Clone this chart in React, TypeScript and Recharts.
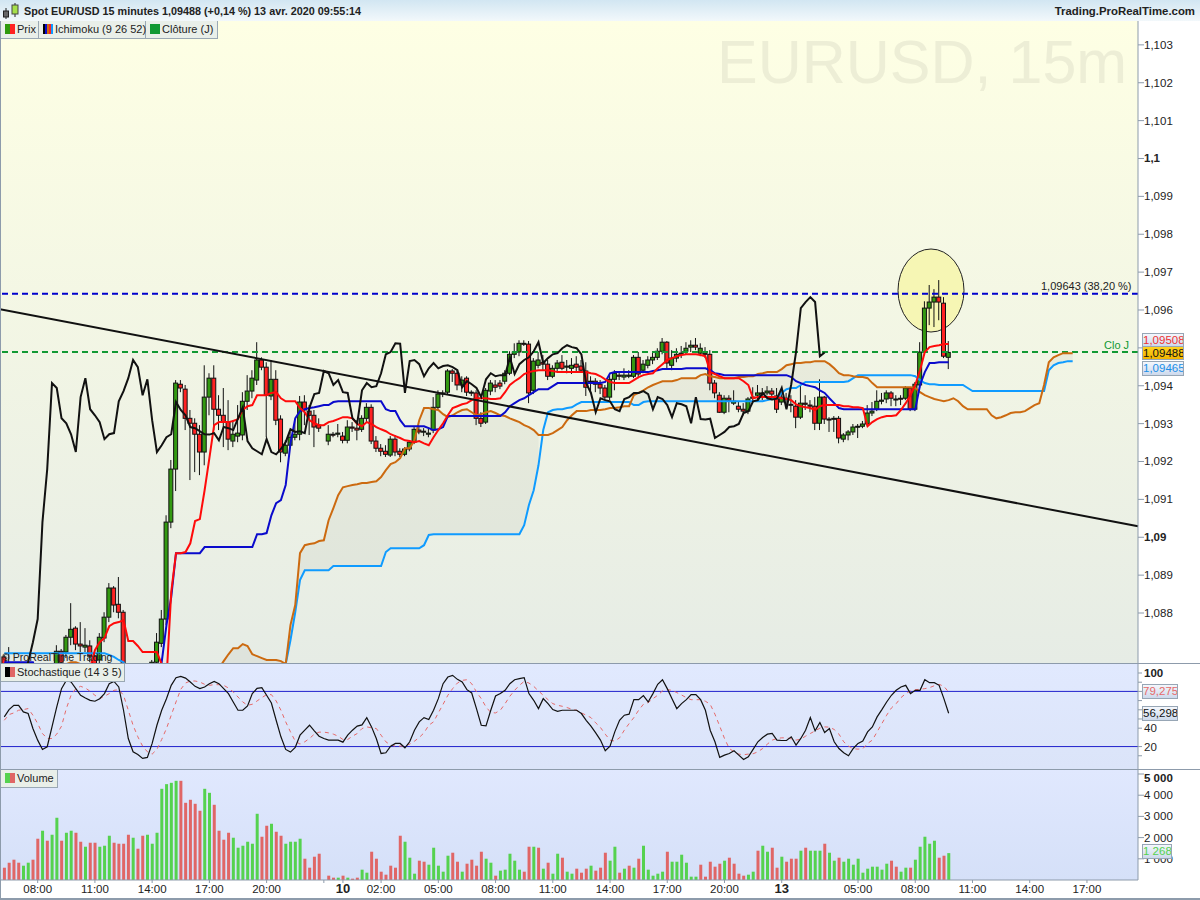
import React from 'react';
import {
  Area,
  Bar,
  Cell,
  ComposedChart,
  Line,
  ReferenceLine,
  XAxis,
  YAxis
} from 'recharts';

// prices are stored as points above 1 (9488 means 1,09488)
const opens = [
  8684,8665,8654,8644,8633,8644,8654,8644,8623,8644,
  8633,8649,8699,8697,8736,8760,8718,8710,8713,8686,
  8676,8734,8789,8866,8823,8802,8654,8639,8649,8633,
  8623,8644,8670,8720,8784,9040,9180,9404,9391,9314,
  9301,9272,9225,9370,9420,9338,9322,9304,9254,9267,
  9270,9359,9386,9415,9468,9449,9373,9417,9312,9222,
  9243,9264,9272,9357,9333,9322,9296,null,9254,9272,
  9272,9267,9256,9291,9288,9285,9314,9343,9254,9235,
  9227,9217,9259,9227,9219,9233,9251,9283,9278,9272,
  9283,9343,9378,9383,9439,9433,9402,9420,9383,9381,
  9314,9304,9386,9402,9407,9412,9433,9483,9489,9512,
  9510,9388,9454,9462,9457,9425,9446,9462,9449,9446,
  9457,9452,9439,9410,9412,9404,9394,9370,9417,9428,
  9423,9425,9425,9475,9441,9454,9468,9475,9491,9515,
  9454,9473,9483,9491,9502,9507,9486,9486,9483,9407,
  9375,9330,9367,9354,9346,9338,9333,9367,9375,9378,
  9381,9386,9373,9357,9367,9351,9346,9317,9354,9349,
  9346,9301,9370,9312,9314,9314,9259,9270,9278,9291,
  9293,9299,9328,9338,9359,9365,9381,9365,9367,9367,
  9394,9338,9402,9489,9605,9621,9634,9618,9475
];
const closes = [
  8665,8654,8644,8633,8644,8654,8644,8623,8644,8633,
  8649,8699,8670,8736,8757,8718,8713,8715,8686,8654,
  8736,8789,8866,8821,8802,8654,8639,8649,8633,8623,
  8644,8670,8723,8784,9040,9180,9407,9394,9314,9301,
  9272,9225,9370,9420,9338,9322,9304,9259,9272,9275,
  9359,9386,9420,9468,9449,9375,9417,9309,9225,9243,
  9264,9272,9357,9336,9322,9291,9288,null,9272,9271,
  9275,9256,9291,9288,9283,9314,9343,9254,9235,9227,
  9219,9259,9225,9219,9233,9251,9285,9278,9280,9275,
  9343,9378,9381,9439,9433,9402,9415,9383,9381,9314,
  9301,9388,9407,9396,9399,9433,9483,9489,9512,9511,
  9381,9465,9468,9457,9425,9446,9460,9446,9452,9454,
  9449,9441,9396,9412,9404,9394,9370,9417,9433,9425,
  9428,9428,9475,9431,9457,9468,9475,9491,9515,9460,
  9473,9483,9486,9499,9507,9502,9499,9483,9407,9381,
  9330,9367,9362,9359,9338,9333,9365,9370,9381,9381,
  9386,9378,9338,9370,9365,9349,9317,9354,9351,9346,
  9301,9370,9312,9311,9313,9262,9270,9278,9291,9293,
  9299,9328,9333,9359,9362,9381,9367,9364,9366,9394,
  9338,9404,9489,9605,9621,9634,9621,9478,9488
];
const highs = [
  8689,8710,8670,8654,8654,8665,8665,8654,8649,8654,
  8660,8715,8705,8742,8826,8765,8776,8760,8728,8702,
  8747,8802,8879,8871,8895,8808,8665,8660,8660,8644,
  8654,8676,8747,8808,9058,9204,9415,9415,9402,9336,
  9314,9296,9454,9433,9454,9375,9394,9362,9309,9349,
  9383,9428,9441,9515,9475,9462,9468,9441,9322,9256,
  9278,9309,9373,9375,9349,9336,9314,null,9296,9278,
  9299,9278,9309,9304,9309,9322,9354,9351,9267,9246,
  9243,9267,9270,9235,9238,9256,9291,9291,9288,9288,
  9370,9388,9388,9444,9444,9441,9425,9425,9388,9388,
  9330,9394,9415,9415,9415,9441,9491,9512,9520,9520,
  9518,9473,9489,9481,9468,9454,9468,9481,9468,9473,
  9478,9468,9462,9425,9420,9415,9402,9428,9441,9436,
  9446,9441,9481,9489,9468,9478,9489,9499,9526,9518,
  9494,9499,9505,9515,9520,9526,9512,9502,9494,9415,
  9383,9375,9375,9388,9357,9354,9370,9396,9402,9394,
  9399,9394,9394,9383,9381,9375,9362,9402,9375,9362,
  9370,9417,9373,9317,9320,9320,9275,9283,9299,9299,
  9307,9349,9357,9388,9381,9388,9386,9375,9375,9399,
  9396,9410,9515,9623,9666,9655,9679,9634,9518
];
const lows = [
  8654,8644,8633,8623,8623,8633,8633,8612,8612,8623,
  8618,8639,8654,8681,8715,8702,8697,8697,8670,8644,
  8665,8723,8776,8802,8786,8644,8628,8628,8623,8612,
  8612,8633,8660,8710,8768,9024,9122,9383,9283,9151,
  9172,9164,9190,9322,9283,9283,9238,9230,9238,9251,
  9256,9336,9367,9402,9441,9264,9362,9296,9198,9214,
  9235,9256,9256,9296,9270,9238,9278,null,9243,9264,
  9264,9248,9248,9278,9256,9278,9304,9246,9225,9214,
  9212,9212,9214,9212,9214,9227,9246,9272,9267,9264,
  9275,9336,9370,9378,9410,9388,9383,9373,9373,9296,
  9291,9299,9375,9383,9391,9404,9428,9473,9478,9505,
  9354,9378,9446,9441,9415,9420,9436,9441,9433,9431,
  9436,9436,9373,9383,9383,9378,9362,9362,9388,9415,
  9415,9420,9420,9420,9433,9446,9457,9468,9483,9446,
  9441,9462,9473,9483,9489,9494,9478,9473,9388,9367,
  9328,9325,9330,9349,9330,9322,9325,9357,9362,9362,
  9375,9362,9328,9349,9341,9330,9288,9312,9336,9330,
  9283,9283,9299,9278,9278,9248,9251,9256,9270,9262,
  9288,9293,9320,9333,9351,9354,9346,9346,9349,9362,
  9333,9333,9394,9483,9560,9555,9573,9473,9444
];

const tenkan = [
  null,null,null,null,null,null,null,null,null,null,
  null,null,null,null,null,null,null,null,8654,8702,
  8723,8734,8765,8773,8776,8781,8726,8726,8713,8697,
  8697,8697,8697,8665,8623,8855,8958,8958,8961,8984,
  9043,9048,9124,9209,9296,9304,9304,9304,9307,9312,
  9336,9346,9349,9375,9375,9375,9381,9383,9367,9359,
  9359,9359,9341,9330,9309,9301,9296,9296,9304,9307,
  9312,9317,9317,9314,9299,9293,9304,9299,9291,9285,
  9280,9272,9267,9262,9256,9254,9251,9254,9248,9243,
  9264,9283,9301,9322,9341,9346,9351,9354,9362,9367,
  9367,9367,9365,9365,9367,9383,9402,9412,9420,9431,
  9436,9439,9441,9441,9441,9439,9436,9436,9436,9436,
  9436,9436,9436,9433,9431,9425,9417,9410,9407,9407,
  9407,9407,9415,9423,9428,9431,9433,9446,9457,9468,
  9473,9478,9481,9483,9483,9483,9481,9478,9436,9431,
  9425,9420,9420,9420,9420,9412,9402,9367,9370,9370,
  9370,9370,9370,9367,9365,9362,9351,9346,9343,9341,
  9336,9346,9349,9349,9349,9349,9346,9346,9343,9343,
  9341,9293,9304,9312,9317,9320,9320,9322,9336,9354,
  9375,9402,9441,9489,9502,9505,9507,9510,9510
];
const kijun = [
  8670,8670,8670,8670,8670,8670,8670,8636,8636,8636,
  8636,8636,8636,8636,8636,8636,8636,8636,8636,8636,
  8636,8636,8636,8636,8636,8636,8636,8636,8636,8636,
  8636,8636,8636,8670,8768,8842,8958,8958,8958,8958,
  8958,8958,8974,8974,8974,8974,8974,8974,8974,8974,
  8974,8974,8974,9008,9008,9011,9058,9090,9098,9138,
  9248,9314,9333,9338,9341,9343,9346,9349,9349,9357,
  9359,9359,9359,9359,9359,9359,9359,9359,9359,9359,
  9338,9333,9333,9309,9293,9293,9293,9293,9293,9288,
  9283,9285,9291,9320,9320,9320,9320,9320,9320,9320,
  9320,9320,9320,9320,9320,9330,9346,9354,9362,9367,
  9375,9383,9391,9391,9391,9399,9407,9407,9407,9407,
  9407,9407,9407,9407,9407,9407,9410,9433,9436,9436,
  9436,9436,9436,9436,9436,9436,9439,9441,9444,9444,
  9444,9444,9444,9446,9446,9446,9446,9446,9441,9433,
  9431,9428,9428,9428,9428,9428,9428,9428,9428,9428,
  9428,9428,9428,9428,9428,9423,9412,9407,9402,9399,
  9396,9388,9381,9367,9354,9341,9338,9338,9338,9338,
  9338,9338,9338,9338,9338,9338,9338,9338,9338,9338,
  9338,9338,9402,9436,9460,9460,9462,9462,9462
];
const spanA = [
  8644,8644,8644,8644,8644,8644,8644,8644,8644,8644,
  8644,8644,8644,8665,8670,8670,8665,8654,8644,8644,
  8644,8644,8644,8644,8644,8644,8644,8644,8644,8644,
  8644,8665,8665,8644,8644,8644,8644,8644,8644,8644,
  8644,8644,8644,8644,8644,8654,8673,8691,8707,8707,
  8718,8713,8691,8686,8681,8676,8676,8676,8673,8665,
  8768,8821,8958,8979,8982,8984,8990,8992,9045,9077,
  9111,9132,9135,9138,9140,9143,9143,9146,9148,9159,
  9177,9193,9198,9209,9235,9235,9256,9309,9341,9341,
  9338,9336,9325,9317,9322,9330,9336,9338,9330,9322,
  9325,9330,9333,9328,9322,9320,9314,9309,9304,9296,
  9291,9283,9270,9270,9270,9275,9283,9291,9309,9322,
  9333,9333,9333,9336,9336,9336,9338,9341,9341,9343,
  9346,9346,9375,9381,9388,9396,9402,9407,9412,9412,
  9412,9415,9420,9420,9420,9420,9428,9431,9425,9423,
  9420,9420,9420,9420,9423,9423,9425,9425,9431,9433,
  9436,9436,9436,9444,9454,9457,9460,9460,9462,9462,
  9465,9465,9465,9457,9446,9433,9428,9428,9425,9423,
  9423,9420,9407,9396,9396,9396,9396,9396,9396,9396,
  9396,9394,9383,9375,9370,9365,9362,9359,9362,9367,
  9359,9346,9338,9338,9338,9338,9338,9322,9314,9317,
  9322,9328,9330,9330,9333,9341,9349,9354,9402,9462,
  9475,9481,9486,9486,9486
];
const spanB = [
  8694,8694,8694,8694,8694,8694,8694,8694,8694,8694,
  8694,8694,8694,8694,8694,8694,8694,8694,8694,8694,
  8694,8694,8689,8684,8676,8670,8644,8644,8644,8644,
  8644,8644,8644,8644,8644,8644,8644,8644,8644,8644,
  8644,8644,8644,8644,8644,8644,8644,8644,8644,8644,
  8644,8644,8644,8644,8644,8644,8644,8644,8644,8665,
  8728,8802,8887,8913,8913,8913,8913,8913,8913,8924,
  8924,8924,8924,8924,8924,8924,8924,8924,8924,8924,
  8961,8971,8971,8971,8971,8971,8971,8971,8979,9006,
  9008,9008,9008,9008,9008,9008,9008,9008,9008,9008,
  9008,9008,9008,9008,9008,9008,9008,9008,9008,9032,
  9085,9124,9190,9283,9330,9336,9338,9338,9341,9343,
  9351,9357,9357,9357,9357,9357,9357,9357,9357,9357,
  9357,9357,9349,9349,9357,9359,9359,9359,9359,9359,
  9359,9359,9359,9359,9359,9359,9359,9359,9359,9359,
  9359,9359,9359,9359,9359,9359,9359,9359,9359,9359,
  9362,9365,9367,9381,9391,9394,9394,9402,9410,9410,
  9410,9410,9410,9410,9410,9410,9410,9412,9420,9428,
  9428,9428,9428,9428,9428,9428,9428,9428,9428,9428,
  9428,9425,9415,9407,9404,9404,9402,9402,9402,9402,
  9402,9402,9394,9386,9386,9386,9386,9386,9386,9386,
  9386,9386,9386,9386,9386,9386,9386,9386,9386,9441,
  9454,9460,9462,9465,9465
];
const chikou = [
  8639,8649,8633,8623,8644,8670,8723,8784,9040,9180,
  9407,9394,9314,9301,9272,9225,9370,9420,9338,9322,
  9304,9259,9272,9275,9359,9386,9420,9468,9449,9375,
  9417,9309,9225,9243,9264,9272,9357,9336,9322,9291,
  9288,null,9272,9271,9275,9256,9291,9288,9283,9314,
  9343,9254,9235,9227,9219,9259,9225,9219,9233,9251,
  9285,9278,9280,9275,9343,9378,9381,9439,9433,9402,
  9415,9383,9381,9314,9301,9388,9407,9396,9399,9433,
  9483,9489,9512,9511,9381,9465,9468,9457,9425,9446,
  9460,9446,9452,9454,9449,9441,9396,9412,9404,9394,
  9370,9417,9433,9425,9428,9428,9475,9431,9457,9468,
  9475,9491,9515,9460,9473,9483,9486,9499,9507,9502,
  9499,9483,9407,9381,9330,9367,9362,9359,9338,9333,
  9365,9370,9381,9381,9386,9378,9338,9370,9365,9349,
  9317,9354,9351,9346,9301,9370,9312,9311,9313,9262,
  9270,9278,9291,9293,9299,9328,9333,9359,9362,9381,
  9367,9364,9366,9394,9338,9404,9489,9605,9621,9634,
  9621,9478,9488
];

const stochK = [
  52.3,60.2,64.9,64.9,57.7,55.9,39.6,27,16.9,19.8,
  41.4,63.1,83,92,90.2,83,75.8,72.9,70.3,69.3,
  72.1,77.6,88.4,90.9,84.8,59.5,28.8,14.3,11.4,7.1,
  8.2,23.4,43.2,59.5,72.1,86.6,94.9,96.4,94.5,90.2,
  85.5,83,84.8,88.4,90.9,88.4,83,77.6,68.5,59.5,
  59.5,64.2,77.6,83.3,84,75.8,67.4,48.6,30.6,16.9,
  14,19,32.4,37.8,43.2,37.1,31.3,28.8,27,27,
  27,24.8,32.4,37.8,42.2,43.6,51.5,41.4,28.8,12.5,
  13.3,20.5,23.4,23.4,18.7,25.2,37.8,46.9,51.5,49.4,
  59.5,72.1,88.4,95.6,97.4,93.1,90.2,81.9,78.3,61.3,
  43.2,42.5,59.5,75,77.6,81.2,88.4,92.7,93.8,94.9,
  77.6,70.3,61.3,72.1,66.7,60.2,58.4,59.5,59.5,59.5,
  59.5,55.9,48.6,42.2,34.9,27,15.4,20.5,36,48.6,
  54.1,55.2,71,71,75.4,68.5,77.6,87.7,92.7,83,
  72.1,61.3,66.7,71,76.5,76.5,71,59.5,37.8,25.2,
  8.2,10.7,12.5,15.4,10.7,6,8.9,16.9,25.2,29.9,
  33.5,34.2,27,26.6,26.6,30.6,21.6,28.8,37.8,51.5,
  37.1,46.1,35.3,39.6,25.2,17.9,13.3,10,17.9,23.4,
  25.9,36,41.4,52.3,60.2,68.5,75.8,81.2,84.8,86.6,
  77.6,81.2,81.2,92.7,89.5,89.5,86.6,72.1,56.3
];
const stochD = [
  48.6,54.8,56.6,59.5,60.2,61.3,54.1,45,34.2,28.8,
  28.8,33.5,42.2,61.3,75.8,83,85.5,83.7,80.1,75.8,
  72.1,74.7,77.6,81.2,81.9,75.8,59.5,43.2,30.6,20.5,
  14.3,11.8,16.9,27.7,39.6,54.1,68.5,82.3,89.1,91.3,
  91.3,90.2,87.7,86.6,87.3,87.3,86.6,83.7,79.4,73.9,
  68.5,64.9,66,69.6,73.2,76.5,76.5,69.6,59.5,46.9,
  36,25.9,22.7,25.2,28.8,33.5,35.7,35.7,34.9,33.5,
  31.3,27.7,27.7,31.3,34.2,39.6,41.4,40.4,39.6,32.4,
  25.2,21.6,20.5,20.5,20.5,22.7,25.9,29.9,34.9,43.2,
  46.9,56.6,66,75.8,83,89.1,92,92.7,88.4,79.4,
  72.1,63.1,57,56.6,59.5,66.7,74.7,81.2,86.6,90.9,
  89.1,85.5,80.5,75.8,71,66.7,64.9,63.8,62.4,60.6,
  59.5,56.6,54.1,51.5,45.8,40.7,33.5,27,25.9,29.5,
  37.8,45,51.5,59.5,66,67.8,72.1,75.8,80.5,81.9,
  81.2,78.7,76.1,73.2,71,71,71,69.3,66,55.2,
  42.2,28.8,17.9,14.3,11.8,11.1,11.8,12.2,14.3,17.9,
  22.7,27,28.8,29.5,29.5,28.4,27,28.1,31.3,34.2,
  37.1,40,41.4,41.1,38.6,33.5,25.2,20.5,17.6,17.2,
  17.6,23.4,27,36,45,54.1,62,66.7,73.2,77.6,
  80.5,81.9,82.3,83,84.1,86.2,87.7,85.5,79.3
];

const volumes = [
  580,816,958,816,675,816,958,1947,2324,1853,
  2135,2936,1853,2229,2324,2229,1805,1570,1758,1758,
  1570,1617,2088,1758,1711,1711,2135,1994,1476,2088,
  2135,1711,2229,4302,4522,4584,4679,4679,3642,3784,
  3595,3266,4302,4113,3548,2324,1900,2229,1994,1523,
  1617,1805,1711,3124,2041,2559,2653,2276,2088,1711,
  1805,1805,1947,1005,581,1099,1240,null,204,110,
  110,204,110,63,110,487,345,1334,1005,392,
  251,675,581,2088,1805,1052,298,911,863,722,
  1523,675,392,1146,1287,863,392,769,958,675,
  1334,1005,816,204,440,487,1240,911,487,392,
  1570,1570,1523,534,816,298,1240,1052,392,298,
  534,345,534,675,440,581,1287,911,1570,345,
  534,675,581,1005,1617,487,204,298,392,1334,
  863,863,1193,816,157,157,722,157,863,628,
  769,911,1052,769,298,204,251,392,1382,1617,
  1334,1523,581,1099,863,1005,1005,1382,1523,1382,
  1382,1382,1711,1287,911,1052,863,1005,722,1005,
  345,534,628,628,487,769,911,628,392,581,
  581,958,1570,2041,1711,1853,1052,1146,1268
];
const volumeSides = [
  'RRRRGGRRGR', 'GGRGGRRGRR', 'GGGRRRRGRR', 'GGGGGGGRRR', 'RRGGRRRRGG',
  'GGGGRRGRRG', 'GGGRRRRRRR', 'GRGRRGGRRR', 'RRRRGGGRRG', 'GGGGRRGRRR',
  'RGGRGGGGGR', 'RGRGRGGRGG', 'RRRGRRRGGR', 'GRGRGGGGGR', 'GGGGGGRRRR',
  'RGRRRRGGRG', 'GRRGRRRGRG', 'GGRGGRGGGG', 'GGGGGGRRGG', 'RGGGGGRRG'
].join('');

const priceTicks = [1.088, 1.089, 1.09, 1.091, 1.092, 1.093, 1.094, 1.095, 1.096, 1.097, 1.098, 1.099, 1.1, 1.101, 1.102, 1.103];
const boldPrices = [1.09, 1.1];
const stochTicks = [100, 90, 80, 70, 60, 50, 40, 20, 10];
const stochLabels = [100, 40, 20];
const volumeTicks = [1000, 2000, 3000, 4000, 5000];
const timeTicks: Record<number, string> = {
  7: '08:00', 19: '11:00', 31: '14:00', 43: '17:00', 55: '20:00', 67: '', 71: '10', 79: '02:00',
  91: '05:00', 103: '08:00', 115: '11:00', 127: '14:00', 139: '17:00', 151: '20:00', 163: '13',
  179: '05:00', 191: '08:00', 203: '11:00', 215: '14:00', 227: '17:00'
};

const toPrice = (p?: number | null) => (p == null ? undefined : 1 + p / 100000);

const fib382 = 1.09643;
const dailyClose = 1.09489;
const trendStart = { x: -0.9, y: 1.09602 };
const trendEnd = { x: 237.7, y: 1.09029 };

const rows = spanA.map((_, i) => ({
  i,
  open: toPrice(opens[i]),
  close: toPrice(closes[i]),
  high: toPrice(highs[i]),
  low: toPrice(lows[i]),
  range: highs[i] == null ? undefined : [toPrice(lows[i]), toPrice(highs[i])],
  tenkan: toPrice(tenkan[i]),
  kijun: toPrice(kijun[i]),
  spanA: toPrice(spanA[i]),
  spanB: toPrice(spanB[i]),
  // the platform only shades the cloud while span A is above span B
  cloud: spanA[i] > spanB[i] ? [toPrice(spanA[i]), toPrice(spanB[i])] : undefined,
  chikou: toPrice(chikou[i]),
  k: stochK[i],
  d: stochD[i],
  volume: volumes[i]
}));

const xDomain: [number, number] = [-0.9, 237.7];
const font = '"Liberation Sans", Arial, sans-serif';
const axisColor = '#8d9bab';

const Candle = (props: any) => {
  const { x, y, width, height, payload } = props;
  if (payload.high == null || !height) return null;
  const perUnit = height / (payload.high - payload.low);
  const top = y + (payload.high - Math.max(payload.open, payload.close)) * perUnit;
  const bottom = y + (payload.high - Math.min(payload.open, payload.close)) * perUnit;
  const mid = x + width / 2;
  const up = payload.close >= payload.open;
  return (
    <g>
      <line x1={mid} x2={mid} y1={y} y2={y + height} stroke="#111" strokeWidth={1} />
      <rect
        x={x}
        y={top}
        width={width}
        height={Math.max(bottom - top, 1)}
        fill={up ? '#339911' : '#ff2222'}
        stroke="#111"
        strokeWidth={1}
      />
    </g>
  );
};

const PriceTick = ({ x, y, payload }: any) => (
  <text
    x={x}
    y={y + 4}
    fontFamily={font}
    fontSize={11.5}
    fontWeight={boldPrices.includes(payload.value) ? 'bold' : 'normal'}
    fill="#222"
  >
    {String(payload.value).replace('.', ',')}
  </text>
);

const StochTick = ({ x, y, payload }: any) =>
  stochLabels.includes(payload.value) ? (
    <text
      x={x}
      y={y + 4}
      fontFamily={font}
      fontSize={11.5}
      fontWeight={payload.value === 100 ? 'bold' : 'normal'}
      fill="#222"
    >
      {payload.value}
    </text>
  ) : (
    <g />
  );

const VolumeTick = ({ x, y, payload }: any) => (
  <text
    x={x}
    y={payload.value === 5000 ? y + 8 : y + 4}
    fontFamily={font}
    fontSize={11.5}
    fontWeight={payload.value === 5000 ? 'bold' : 'normal'}
    fill="#222"
  >
    {String(payload.value).replace(/000$/, ' 000')}
  </text>
);

const TimeTick = ({ x, y, payload }: any) => {
  const label = timeTicks[payload.value];
  const isDay = label === '10' || label === '13';
  return (
    <text
      x={x}
      y={y + 10}
      textAnchor="middle"
      fontFamily={font}
      fontSize={isDay ? 13 : 11.5}
      fontWeight={isDay ? 'bold' : 'normal'}
      fill="#222"
    >
      {label}
    </text>
  );
};

const LegendBox = ({ left, top, width, swatches, label }: any) => (
  <div
    style={{
      position: 'absolute',
      left,
      top,
      width,
      height: 18,
      boxSizing: 'border-box',
      background: '#e9efe9',
      borderRight: '1px solid #9aa8b4',
      borderBottom: '1px solid #9aa8b4',
      fontSize: 11,
      lineHeight: '17px',
      color: '#222',
      whiteSpace: 'nowrap'
    }}
  >
    <span style={{ position: 'absolute', left: 4, top: 3, display: 'flex' }}>
      {swatches.map((c: string, i: number) => (
        <span key={i} style={{ width: 10 / swatches.length, height: 10, background: c }} />
      ))}
    </span>
    <span style={{ position: 'absolute', left: 16 }}>{label}</span>
  </div>
);

const ValueTag = ({ left, top, width, height, color, background, text }: any) => (
  <div
    style={{
      position: 'absolute',
      left,
      top,
      width,
      height,
      boxSizing: 'border-box',
      border: '1px solid #97a6b5',
      background,
      color,
      fontSize: 11.5,
      lineHeight: `${height - 2}px`,
      textAlign: 'center',
      whiteSpace: 'nowrap',
      overflow: 'hidden'
    }}
  >
    {text}
  </div>
);

const tagBlue = 'linear-gradient(#f4f7fc, #cdd9ec)';

export default function App() {
  return (
    <div style={{ position: 'absolute', left: 0, top: 0, width: 1200, height: 900, background: '#fff', fontFamily: font, overflow: 'hidden' }}>
      {/* title bar */}
      <div style={{ position: 'absolute', left: 0, top: 0, width: 1200, height: 21, background: 'linear-gradient(#d2e6f2, #f2f8fb)' }} />
      <svg style={{ position: 'absolute', left: 2, top: 3 }} width={18} height={16}>
        <line x1={4} x2={4} y1={5} y2={16} stroke="#222" />
        <rect x={1.5} y={8} width={5} height={6} fill="#666" stroke="#222" />
        <line x1={13} x2={13} y1={0} y2={14} stroke="#222" />
        <rect x={10} y={2} width={6} height={9} fill="#a6e04a" stroke="#444" />
      </svg>
      <div style={{ position: 'absolute', left: 24, top: 5, fontSize: 10.8, fontWeight: 'bold', color: '#222', whiteSpace: 'nowrap' }}>
        Spot EUR/USD 15 minutes 1,09488 (+0,14 %) 13 avr. 2020 09:55:14
      </div>
      <div style={{ position: 'absolute', right: 5, top: 5, fontSize: 11.4, fontWeight: 'bold', color: '#222' }}>
        Trading.ProRealTime.com
      </div>

      {/* pane backgrounds */}
      <div style={{ position: 'absolute', left: 0, top: 21, width: 1138, height: 642, background: 'linear-gradient(#feffe4, #e6ece5)' }} />
      <div style={{ position: 'absolute', left: 0, top: 664, width: 1138, height: 105, background: 'linear-gradient(#e1e9fe, #dbe4f9)' }} />
      <div style={{ position: 'absolute', left: 0, top: 770, width: 1138, height: 110, background: 'linear-gradient(#e0e8fe, #d5e0f8)' }} />
      <div style={{ position: 'absolute', left: 717, top: 27, fontSize: 61, lineHeight: '70px', color: '#edeed6', whiteSpace: 'nowrap' }}>
        EURUSD, 15m
      </div>

      {/* highlight ellipse sits under the candles */}
      <svg style={{ position: 'absolute', left: 890, top: 240 }} width={84} height={100}>
        <ellipse cx={41} cy={50.5} rx={33} ry={41.5} fill="#f6f6b4" stroke="#222" strokeWidth={1} />
      </svg>

      {/* price pane */}
      <div style={{ position: 'absolute', left: 0, top: 21 }}>
        <ComposedChart width={1200} height={642} data={rows} margin={{ top: 0, right: 0, bottom: 0, left: 0 }}>
          <XAxis dataKey="i" type="number" domain={xDomain} allowDataOverflow hide />
          <YAxis
            orientation="right"
            width={62}
            type="number"
            domain={[1.08668, 1.10363]}
            allowDataOverflow
            ticks={priceTicks}
            interval={0}
            tick={<PriceTick />}
            tickSize={6}
            tickMargin={0}
            stroke={axisColor}
          />
          <Area dataKey="cloud" stroke="none" fill="#807f78" fillOpacity={0.08} dot={false} activeDot={false} isAnimationActive={false} />
          <ReferenceLine y={fib382} stroke="#0000cc" strokeWidth={2} strokeDasharray="6 4" />
          <ReferenceLine y={dailyClose} stroke="#119933" strokeWidth={2} strokeDasharray="6 4" />
          <Bar dataKey="range" barSize={4} shape={<Candle />} isAnimationActive={false} />
          <Line dataKey="spanB" stroke="#0f9bff" strokeWidth={2} dot={false} activeDot={false} isAnimationActive={false} />
          <Line dataKey="spanA" stroke="#cc6a10" strokeWidth={2} dot={false} activeDot={false} isAnimationActive={false} />
          <Line dataKey="kijun" stroke="#0a0acc" strokeWidth={2} dot={false} activeDot={false} isAnimationActive={false} />
          <Line dataKey="tenkan" stroke="#ff0a0a" strokeWidth={2} dot={false} activeDot={false} isAnimationActive={false} />
          <Line dataKey="chikou" stroke="#111" strokeWidth={2} dot={false} activeDot={false} connectNulls isAnimationActive={false} />
          <ReferenceLine segment={[trendStart, trendEnd]} stroke="#111" strokeWidth={2} ifOverflow="visible" />
        </ComposedChart>
      </div>

      {/* stochastic pane */}
      <div style={{ position: 'absolute', left: 0, top: 664 }}>
        <ComposedChart width={1200} height={105} data={rows} margin={{ top: 0, right: 0, bottom: 0, left: 0 }}>
          <XAxis dataKey="i" type="number" domain={xDomain} allowDataOverflow hide />
          <YAxis
            orientation="right"
            width={62}
            type="number"
            domain={[-4.4, 109.8]}
            allowDataOverflow
            ticks={stochTicks}
            interval={0}
            tick={<StochTick />}
            tickSize={4}
            tickMargin={2}
            stroke={axisColor}
          />
          <ReferenceLine y={80} stroke="#2020cc" strokeWidth={1} />
          <ReferenceLine y={20} stroke="#2020cc" strokeWidth={1} />
          <Line dataKey="d" stroke="#e66a6a" strokeWidth={1} strokeDasharray="4 4" dot={false} activeDot={false} isAnimationActive={false} />
          <Line dataKey="k" stroke="#111" strokeWidth={1.2} dot={false} activeDot={false} isAnimationActive={false} />
        </ComposedChart>
      </div>

      {/* volume pane with the time axis */}
      <div style={{ position: 'absolute', left: 0, top: 770 }}>
        <ComposedChart width={1200} height={128} data={rows} margin={{ top: 0, right: 0, bottom: 0, left: 0 }}>
          <XAxis
            dataKey="i"
            type="number"
            domain={xDomain}
            allowDataOverflow
            ticks={Object.keys(timeTicks).map(Number)}
            interval={0}
            height={18}
            tick={<TimeTick />}
            tickSize={3}
            tickMargin={0}
            stroke={axisColor}
          />
          <YAxis
            orientation="right"
            width={62}
            type="number"
            domain={[0, 5189]}
            allowDataOverflow
            ticks={volumeTicks}
            interval={0}
            tick={<VolumeTick />}
            tickSize={6}
            tickMargin={0}
            stroke={axisColor}
          />
          <Bar dataKey="volume" barSize={3} isAnimationActive={false}>
            {rows.map((r) => (
              <Cell key={r.i} fill={volumeSides[r.i] === 'G' ? '#55d24f' : '#e06666'} />
            ))}
          </Bar>
        </ComposedChart>
      </div>

      {/* frame lines */}
      <div style={{ position: 'absolute', left: 0, top: 663, width: 1200, height: 1, background: axisColor }} />
      <div style={{ position: 'absolute', left: 0, top: 769, width: 1200, height: 1, background: axisColor }} />
      <div style={{ position: 'absolute', left: 0, top: 898, width: 1200, height: 2, background: axisColor }} />
      <div style={{ position: 'absolute', left: 0, top: 21, width: 1, height: 877, background: axisColor }} />

      {/* legends */}
      <LegendBox left={1} top={21} width={38} swatches={['#2f9a0c', '#ff2222']} label="Prix" />
      <LegendBox left={39} top={21} width={107} swatches={['#000', '#0a0acc', '#cc6a10', '#ff2222', '#0f9bff']} label="Ichimoku (9 26 52)" />
      <LegendBox left={146} top={21} width={72} swatches={['#119933']} label="Clôture (J)" />
      <LegendBox left={1} top={664} width={124} swatches={['#000', '#e06666']} label="Stochastique (14 3 5)" />
      <LegendBox left={1} top={770} width={57} swatches={['#55d24f', '#e06666']} label="Volume" />

      {/* notes on the chart */}
      <div style={{ position: 'absolute', left: 2, top: 651, fontSize: 10.6, color: '#222', whiteSpace: 'nowrap' }}>© ProRealTime Trading</div>
      <div style={{ position: 'absolute', left: 1041, top: 280, fontSize: 11, color: '#222', whiteSpace: 'nowrap' }}>1,09643 (38,20 %)</div>
      <div style={{ position: 'absolute', left: 1104, top: 339, fontSize: 11, color: '#119933', whiteSpace: 'nowrap' }}>Clo J</div>

      {/* last value tags */}
      <ValueTag left={1142} top={333} width={42} height={14} color="#ee3333" background={tagBlue} text="1,09508" />
      <ValueTag left={1142} top={346} width={42} height={14} color="#111" background="linear-gradient(#ffd21e, #f2b400)" text="1,09488" />
      <ValueTag left={1142} top={361} width={42} height={15} color="#1a8fe8" background={tagBlue} text="1,09465" />
      <ValueTag left={1142} top={684} width={36} height={15} color="#e66a6a" background={tagBlue} text="79,275" />
      <ValueTag left={1142} top={706} width={36} height={15} color="#111" background={tagBlue} text="56,298" />
      <ValueTag left={1142} top={844} width={30} height={15} color="#55d24f" background={tagBlue} text="1 268" />
    </div>
  );
}
